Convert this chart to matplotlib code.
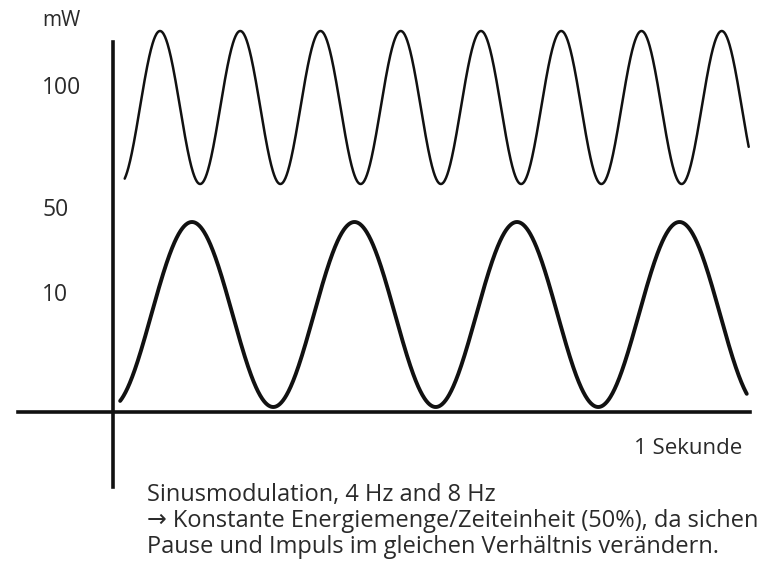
import matplotlib.pyplot as plt
import numpy as np
from matplotlib.lines import Line2D

# Sinusmodulation: Frequenz (Hz), Minimum/Maximum (Höhe über Nulllinie), Lage des ersten Minimums (s)
freq_hz = [8.1, 4.0]
wave_min = [228, 5]
wave_max = [381, 190]
first_trough_s = [0.0106, -0.0035]
t_start = [0.018, 0.011]
t_end = [0.978, 0.975]
line_widths = [1.8, 2.8]

# y-Beschriftung (nicht linear, nur Markierungen)
y_tick_labels = ['10', '50', '100']
y_tick_heights = [117, 202, 324]

caption = ["Sinusmodulation, 4 Hz and 8 Hz",
           "\u2192 Konstante Energiemenge/Zeiteinheit (50%), da sichen",
           "Pause und Impuls im gleichen Verhältnis verändern."]

W, H = 767, 567
fig = plt.figure(figsize=(W / 100, H / 100), dpi=100)
fig.patch.set_facecolor('white')

# Achsenbereich in Pixeln: Ursprung (113, 412)
x0, y0 = 113, 412
px_per_s = 650.0
ax = fig.add_axes([x0 / W, (H - y0) / H, (750 - x0) / W, (y0 - 42) / H])
ax.set_xlim(0, (750 - x0) / px_per_s)
ax.set_ylim(0, y0 - 42)
ax.axis('off')

for f, lo, hi, tr, a, b, lw in zip(freq_hz, wave_min, wave_max, first_trough_s, t_start, t_end, line_widths):
    t = np.linspace(a, b, 1500)
    mid = (lo + hi) / 2
    amp = (hi - lo) / 2
    y = mid - amp * np.cos(2 * np.pi * f * (t - tr))
    ax.plot(t, y, color='#111111', lw=lw, solid_capstyle='round', clip_on=False)

# Achsenlinien (in Pixelkoordinaten der Abbildung)
def px_line(xs, ys, lw):
    fig.add_artist(Line2D([x / W for x in xs], [(H - y) / H for y in ys],
                          transform=fig.transFigure, color='#111111', lw=lw))

px_line([18, 750], [y0, y0], 2.6)
px_line([x0, x0], [42, 487], 2.6)

font = ['Open Sans', 'DejaVu Sans']
txt = dict(family=font, color='#2a2a2a')
fig.text(42 / W, 1 - 20 / H, 'mW', ha='left', va='center', fontsize=15, **txt)
for lab, hgt in zip(y_tick_labels, y_tick_heights):
    fig.text(42 / W, (H - y0 + hgt) / H, lab, ha='left', va='center', fontsize=16.5, **txt)
fig.text(742 / W, 1 - 449 / H, '1 Sekunde', ha='right', va='center', fontsize=16, **txt)

for i, line in enumerate(caption):
    fig.text(147 / W, 1 - (495 + 26 * i) / H, line, ha='left', va='center', fontsize=17, **txt)

fig.savefig('out.png', dpi=100)
